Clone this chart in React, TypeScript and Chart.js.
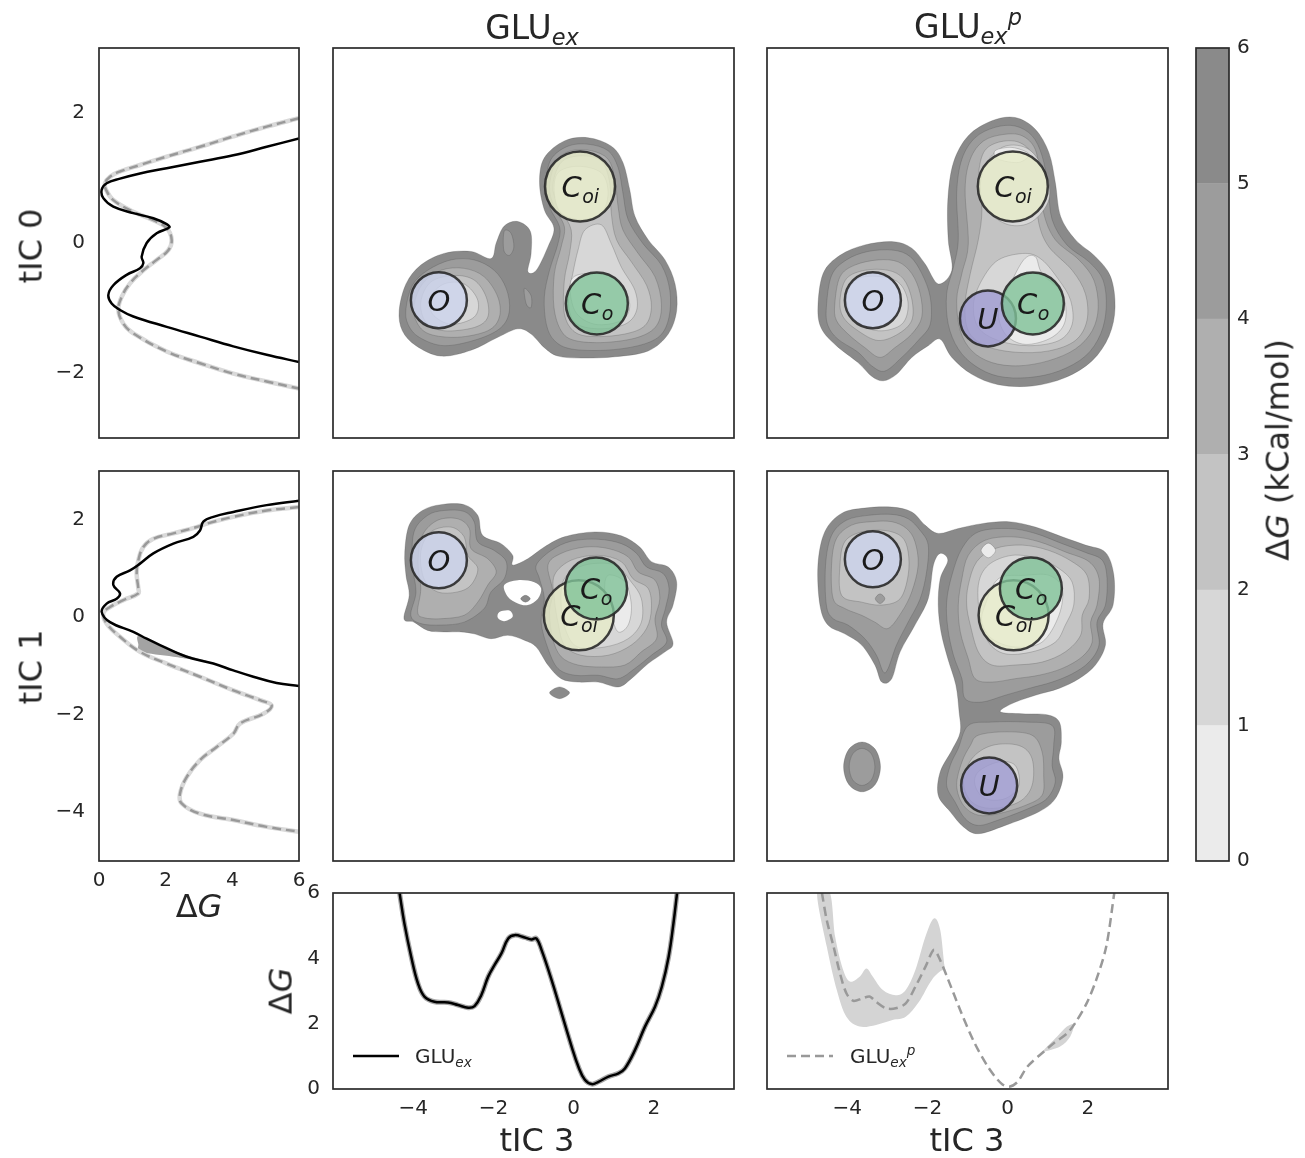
import React, { useEffect, useRef } from "react";
import { Chart, registerables } from "chart.js";

Chart.register(...registerables);

const FONT = "'DejaVu Sans', 'Liberation Sans', sans-serif";
const INK = "#262626";
Chart.defaults.font.family = FONT;

// ================= colour scale (ΔG, kCal/mol) =================
const CB_LEVELS = [0, 1, 2, 3, 4, 5, 6];
const CB_COLORS = ["#ebebeb", "#d7d7d7", "#c3c3c3", "#afafaf", "#9c9c9c", "#8a8a8a"];

// ================= 1-D profiles along tIC 0 (x = ΔG, y = tIC 0) =================
const TIC0_EX_Y = [1.61, 1.48, 1.35, 1.25, 1.15, 1.07, 0.99, 0.92, 0.82, 0.69, 0.56, 0.46, 0.38, 0.29, 0.24, 0.15, 0.0, -0.21, -0.31, -0.39, -0.49, -0.65, -0.8, -0.93, -1.03, -1.13, -1.29, -1.44, -1.59, -1.72, -1.83];
const TIC0_EX_DG = [6.0, 5.03, 4.03, 3.03, 2.03, 1.23, 0.63, 0.23, 0.08, 0.13, 0.43, 1.03, 1.63, 2.03, 2.11, 1.73, 1.43, 1.28, 1.33, 1.23, 0.83, 0.43, 0.28, 0.38, 0.63, 1.03, 2.03, 3.03, 4.03, 5.03, 6.0];
const TIC0_P_Y = [1.92, 1.79, 1.64, 1.48, 1.33, 1.2, 1.1, 1.02, 0.92, 0.82, 0.66, 0.48, 0.35, 0.23, 0.05, -0.11, -0.26, -0.42, -0.62, -0.83, -1.03, -1.24, -1.39, -1.67, -1.85, -2.01, -2.13, -2.24];
const TIC0_P_DG = [6.0, 5.03, 4.03, 3.03, 2.03, 1.23, 0.63, 0.33, 0.18, 0.21, 0.43, 1.03, 1.63, 2.03, 2.18, 2.08, 1.73, 1.33, 0.93, 0.68, 0.58, 0.73, 1.03, 2.03, 3.03, 4.03, 5.03, 6.0];

// ================= 1-D profiles along tIC 1 (x = ΔG, y = tIC 1) =================
const TIC1_EX_Y = [2.39, 2.3, 2.16, 2.06, 1.96, 1.78, 1.65, 1.51, 1.31, 1.1, 0.96, 0.83, 0.66, 0.49, 0.38, 0.28, 0.11, -0.1, -0.3, -0.44, -0.57, -0.81, -0.95, -1.09, -1.22, -1.35, -1.41];
const TIC1_EX_DG = [6.0, 5.03, 4.03, 3.43, 3.13, 3.03, 2.83, 2.23, 1.63, 1.23, 0.93, 0.53, 0.43, 0.63, 0.53, 0.23, 0.08, 0.33, 1.03, 1.43, 1.83, 2.63, 3.43, 4.03, 4.63, 5.33, 6.0];
const TIC1_P_Y = [2.26, 2.19, 2.06, 1.92, 1.85, 1.72, 1.61, 1.44, 1.17, 0.9, 0.59, 0.49, 0.35, 0.21, 0.08, -0.13, -0.4, -0.71, -0.95, -1.22, -1.5, -1.7, -1.81, -1.98, -2.18, -2.39, -2.66, -2.93, -3.28, -3.62, -3.82, -4.03, -4.16, -4.3, -4.4];
const TIC1_P_DG = [6.0, 5.03, 4.03, 3.23, 2.93, 2.23, 1.63, 1.33, 1.18, 1.13, 1.18, 1.18, 0.73, 0.33, 0.13, 0.23, 0.63, 1.23, 2.03, 3.03, 4.03, 4.83, 5.18, 4.93, 4.23, 4.03, 3.53, 3.03, 2.63, 2.43, 2.48, 3.03, 4.03, 5.03, 6.0];
// uncertainty wedge below the GLUex tIC 1 profile
const TIC1_EX_BAND = [[1.2, -0.38], [1.83, -0.57], [2.63, -0.78], [3.23, -0.9], [2.23, -0.81], [1.28, -0.71], [1.18, -0.55]];

// ================= 1-D profiles along tIC 3 (x = tIC 3, y = ΔG) =================
const TIC3_EX_X = [-4.34, -4.22, -4.05, -3.88, -3.72, -3.47, -3.13, -2.88, -2.63, -2.47, -2.3, -2.13, -1.97, -1.8, -1.63, -1.47, -1.22, -1.05, -0.93, -0.8, -0.55, -0.3, -0.05, 0.12, 0.28, 0.45, 0.62, 0.87, 1.12, 1.28, 1.53, 1.78, 2.03, 2.2, 2.37, 2.49, 2.58];
const TIC3_EX_DG = [6.0, 5.07, 4.05, 3.23, 2.83, 2.67, 2.65, 2.57, 2.49, 2.54, 2.88, 3.44, 3.8, 4.15, 4.61, 4.71, 4.64, 4.58, 4.61, 4.26, 3.34, 2.32, 1.3, 0.68, 0.28, 0.15, 0.22, 0.38, 0.48, 0.63, 1.19, 1.91, 2.52, 3.13, 4.05, 5.07, 6.0];
const TIC3_P_X = [-4.63, -4.51, -4.34, -4.18, -4.02, -3.85, -3.61, -3.44, -3.28, -3.03, -2.79, -2.54, -2.3, -2.05, -1.84, -1.72, -1.48, -1.15, -0.82, -0.49, -0.16, 0.04, 0.25, 0.49, 0.9, 1.15, 1.48, 1.68, 1.97, 2.21, 2.46, 2.66];
const TIC3_P_DG = [6.0, 5.17, 4.36, 3.54, 2.93, 2.7, 2.78, 2.83, 2.67, 2.47, 2.47, 2.62, 3.13, 3.74, 4.26, 4.05, 3.34, 2.32, 1.4, 0.68, 0.17, 0.07, 0.22, 0.68, 1.14, 1.4, 1.7, 2.01, 2.62, 3.34, 4.36, 6.0];
// uncertainty band of the GLUex^p tIC 3 profile
const TIC3_P_UP_X = [-4.43, -4.3, -4.1, -3.93, -3.69, -3.52, -3.36, -3.11, -2.79, -2.54, -2.3, -2.05, -1.84, -1.68, -1.57, -1.48];
const TIC3_P_UP = [6.0, 4.66, 3.64, 3.29, 3.44, 3.69, 3.44, 3.03, 2.87, 3.03, 3.64, 4.66, 5.22, 4.87, 3.74, 3.34];
const TIC3_P_LO_X = [-4.75, -4.51, -4.26, -4.02, -3.69, -3.28, -2.87, -2.54, -2.21, -1.89, -1.6, -1.48];
const TIC3_P_LO = [6.0, 4.36, 3.03, 2.21, 1.91, 1.96, 2.11, 2.21, 2.67, 3.34, 3.64, 3.34];
const TIC3_P_UP2_X = [0.9, 1.23, 1.48, 1.68];
const TIC3_P_UP2 = [1.19, 1.6, 1.91, 2.01];
const TIC3_P_LO2_X = [0.9, 1.31, 1.56, 1.68];
const TIC3_P_LO2 = [1.14, 1.3, 1.6, 2.01];

// ================= free-energy contour regions (x = tIC 3, y = tIC 0 / tIC 1) =================
// ---- GLUex, tIC 0 vs tIC 3 ----
const TC_L6 = [[-4.35, -1.04], [-4.18, -0.63], [-3.81, -0.34], [-3.23, -0.16], [-2.56, -0.13], [-2.06, -0.24], [-1.93, 0.0], [-1.73, 0.26], [-1.39, 0.33], [-1.08, 0.18], [-1.06, -0.16], [-1.14, -0.44], [-0.93, -0.42], [-0.64, -0.06], [-0.49, 0.23], [-0.73, 0.51], [-0.85, 0.93], [-0.73, 1.31], [-0.23, 1.57], [0.36, 1.62], [0.94, 1.49], [1.23, 1.24], [1.4, 0.82], [1.53, 0.41], [1.86, 0.05], [2.28, -0.26], [2.53, -0.63], [2.57, -1.04], [2.36, -1.4], [1.86, -1.66], [1.03, -1.75], [0.19, -1.77], [-0.39, -1.74], [-0.73, -1.61], [-1.06, -1.4], [-1.39, -1.32], [-1.89, -1.45], [-2.56, -1.65], [-3.31, -1.74], [-3.93, -1.58], [-4.27, -1.35]];
const TC_HOLE_A = [[-1.73, 0.18], [-1.56, 0.15], [-1.49, -0.06], [-1.6, -0.19], [-1.74, -0.11]];
const TC_HOLE_B = [[-1.23, -0.7], [-1.06, -0.81], [-1.06, -0.99], [-1.18, -0.94]];
const TC_L5_O = [[-4.18, -1.01], [-4.02, -0.65], [-3.64, -0.42], [-3.06, -0.26], [-2.48, -0.26], [-1.98, -0.42], [-1.68, -0.7], [-1.6, -1.04], [-1.81, -1.3], [-2.39, -1.48], [-3.23, -1.58], [-3.85, -1.45], [-4.13, -1.25]];
const TC_L5_MAIN = [[-0.68, 0.93], [-0.56, 1.29], [-0.14, 1.49], [0.36, 1.52], [0.86, 1.42], [1.11, 1.16], [1.23, 0.77], [1.36, 0.36], [1.73, -0.01], [2.19, -0.34], [2.4, -0.73], [2.38, -1.14], [2.15, -1.43], [1.61, -1.58], [0.78, -1.65], [-0.06, -1.63], [-0.48, -1.5], [-0.68, -1.25], [-0.73, -0.83], [-0.6, -0.42], [-0.39, -0.01], [-0.35, 0.25], [-0.6, 0.56]];
const TC_L4_O = [[-3.98, -0.96], [-3.77, -0.63], [-3.31, -0.42], [-2.73, -0.39], [-2.23, -0.52], [-1.89, -0.83], [-1.85, -1.14], [-2.14, -1.35], [-2.89, -1.45], [-3.6, -1.4], [-3.91, -1.22]];
const TC_L4_MAIN = [[-0.6, 0.87], [-0.43, 1.26], [-0.06, 1.42], [0.44, 1.42], [0.86, 1.29], [1.03, 0.98], [1.11, 0.56], [1.23, 0.2], [1.61, -0.16], [2.03, -0.52], [2.19, -0.94], [2.07, -1.27], [1.61, -1.45], [0.78, -1.53], [0.03, -1.5], [-0.31, -1.35], [-0.49, -0.99], [-0.48, -0.47], [-0.31, -0.06], [-0.23, 0.25], [-0.49, 0.56]];
const TC_L3_O = [[-3.81, -0.91], [-3.56, -0.6], [-2.98, -0.5], [-2.48, -0.57], [-2.18, -0.83], [-2.14, -1.14], [-2.48, -1.3], [-3.23, -1.35], [-3.68, -1.22]];
const TC_L3_MAIN = [[-0.52, 0.85], [-0.31, 1.24], [0.19, 1.34], [0.69, 1.26], [0.9, 0.93], [0.94, 0.46], [1.07, 0.05], [1.44, -0.29], [1.82, -0.65], [1.94, -0.99], [1.78, -1.27], [1.28, -1.4], [0.53, -1.44], [0.03, -1.37], [-0.23, -1.09], [-0.23, -0.57], [-0.1, -0.16], [-0.06, 0.2], [-0.31, 0.51]];
const TC_L2_O = [[-3.56, -0.83], [-3.23, -0.63], [-2.73, -0.63], [-2.39, -0.88], [-2.48, -1.14], [-3.06, -1.25], [-3.52, -1.09]];
const TC_L2_COI = [[-0.39, 1.08], [0.11, 1.18], [0.69, 1.08], [0.86, 0.77], [0.69, 0.46], [0.19, 0.36], [-0.31, 0.46], [-0.48, 0.77]];
const TC_L2_CO = [[0.28, 0.2], [0.69, 0.28], [0.94, -0.01], [1.19, -0.37], [1.53, -0.73], [1.57, -1.04], [1.28, -1.25], [0.61, -1.32], [0.03, -1.22], [-0.13, -0.88], [-0.02, -0.47], [0.11, -0.11]];
const TC_L1_CO = [[-0.06, -0.57], [0.44, -0.47], [1.11, -0.57], [1.4, -0.94], [1.19, -1.19], [0.53, -1.25], [0.03, -1.04]];

// ---- GLUex^p, tIC 0 vs tIC 3 ----
const TR_L6 = [[-4.73, -0.99], [-4.6, -0.47], [-4.18, -0.19], [-3.56, -0.03], [-2.85, 0.02], [-2.39, -0.08], [-2.06, -0.32], [-1.73, -0.63], [-1.39, -0.42], [-1.48, 0.05], [-1.49, 0.67], [-1.35, 1.24], [-0.98, 1.65], [-0.39, 1.88], [0.19, 1.93], [0.69, 1.75], [1.03, 1.39], [1.19, 0.93], [1.32, 0.41], [1.69, 0.05], [2.19, -0.21], [2.57, -0.52], [2.68, -0.99], [2.53, -1.43], [2.11, -1.81], [1.44, -2.07], [0.61, -2.2], [-0.23, -2.18], [-0.89, -2.02], [-1.39, -1.76], [-1.68, -1.48], [-1.98, -1.58], [-2.39, -1.76], [-2.77, -2.02], [-3.1, -2.12], [-3.39, -2.05], [-3.73, -1.84], [-4.27, -1.58], [-4.64, -1.32]];
const TR_L5_O = [[-4.52, -0.99], [-4.39, -0.5], [-4.02, -0.26], [-3.48, -0.13], [-2.85, -0.11], [-2.43, -0.21], [-2.14, -0.47], [-1.93, -0.83], [-1.93, -1.25], [-2.23, -1.5], [-2.64, -1.76], [-3.06, -1.97], [-3.39, -1.89], [-3.73, -1.68], [-4.23, -1.48], [-4.48, -1.27]];
const TR_L5_MAIN = [[-1.27, 0.77], [-1.14, 1.29], [-0.81, 1.62], [-0.31, 1.78], [0.19, 1.8], [0.61, 1.65], [0.86, 1.34], [1.01, 0.87], [1.11, 0.36], [1.48, -0.03], [2.03, -0.29], [2.38, -0.57], [2.46, -0.99], [2.32, -1.4], [1.94, -1.74], [1.28, -1.97], [0.53, -2.07], [-0.23, -2.05], [-0.81, -1.89], [-1.23, -1.63], [-1.48, -1.25], [-1.52, -0.78], [-1.35, -0.37], [-1.23, 0.05]];
const TR_L4_O = [[-4.31, -0.94], [-4.18, -0.52], [-3.81, -0.34], [-3.23, -0.26], [-2.73, -0.29], [-2.39, -0.47], [-2.18, -0.78], [-2.14, -1.14], [-2.39, -1.4], [-2.81, -1.61], [-3.18, -1.76], [-3.56, -1.61], [-3.98, -1.4], [-4.27, -1.19]];
const TR_L4_MAIN = [[-1.06, 0.82], [-0.93, 1.29], [-0.6, 1.57], [-0.1, 1.67], [0.36, 1.65], [0.69, 1.44], [0.82, 0.98], [0.9, 0.46], [1.19, 0.05], [1.78, -0.26], [2.15, -0.57], [2.26, -0.99], [2.11, -1.35], [1.69, -1.63], [1.03, -1.81], [0.28, -1.89], [-0.39, -1.84], [-0.89, -1.66], [-1.18, -1.35], [-1.27, -0.88], [-1.14, -0.47], [-0.98, -0.01]];
const TR_L3_O = [[-4.18, -0.88], [-4.02, -0.55], [-3.56, -0.42], [-2.98, -0.42], [-2.6, -0.55], [-2.39, -0.86], [-2.39, -1.19], [-2.73, -1.4], [-3.23, -1.5], [-3.73, -1.35], [-4.1, -1.14]];
const TR_L3_MAIN = [[-0.73, 0.98], [-0.6, 1.39], [-0.23, 1.55], [0.28, 1.55], [0.61, 1.34], [0.69, 0.82], [0.78, 0.3], [1.03, -0.06], [1.61, -0.42], [1.94, -0.78], [1.98, -1.19], [1.69, -1.5], [1.03, -1.66], [0.19, -1.68], [-0.56, -1.58], [-0.98, -1.35], [-1.06, -0.94], [-0.93, -0.47], [-0.73, 0.05], [-0.64, 0.51]];
const TR_L2_O = [[-4.02, -0.83], [-3.73, -0.55], [-3.14, -0.52], [-2.68, -0.63], [-2.48, -0.94], [-2.64, -1.25], [-3.23, -1.35], [-3.81, -1.19]];
const TR_L2_COI = [[-0.52, 1.24], [-0.06, 1.49], [0.53, 1.44], [0.94, 1.08], [1.03, 0.67], [0.61, 0.33], [0.03, 0.28], [-0.52, 0.51], [-0.68, 0.87]];
const TR_L2_CO = [[-0.64, -0.57], [-0.23, -0.26], [0.44, -0.16], [0.86, -0.26], [1.28, -0.57], [1.57, -0.88], [1.61, -1.25], [1.28, -1.5], [0.53, -1.58], [-0.23, -1.5], [-0.73, -1.3], [-0.85, -0.94]];
const TR_L1_CO = [[0.4, -0.26], [0.69, -0.21], [0.86, -0.47], [1.36, -0.78], [1.44, -1.19], [1.11, -1.45], [0.44, -1.56], [-0.06, -1.4], [-0.23, -1.04], [0.03, -0.68]];
const TR_L1_COI = [[-0.31, 1.42], [0.11, 1.47], [0.53, 1.37], [0.28, 1.24], [-0.23, 1.29]];

// ---- GLUex, tIC 1 vs tIC 3 ----
const MC_L6 = [[-4.23, -0.03], [-4.1, 0.45], [-4.18, 0.86], [-4.21, 1.34], [-4.1, 1.89], [-3.77, 2.19], [-3.31, 2.31], [-2.73, 2.31], [-2.39, 2.09], [-2.27, 1.68], [-1.81, 1.51], [-1.52, 1.27], [-1.52, 1.07], [-1.14, 1.2], [-0.73, 1.44], [-0.23, 1.65], [0.53, 1.75], [1.19, 1.67], [1.65, 1.44], [1.94, 1.14], [2.36, 1.03], [2.57, 0.72], [2.48, 0.25], [2.32, -0.1], [2.48, -0.54], [2.28, -0.71], [1.86, -0.95], [1.44, -1.26], [1.11, -1.43], [0.61, -1.33], [0.11, -1.33], [-0.31, -1.26], [-0.64, -0.98], [-0.93, -0.61], [-1.23, -0.47], [-1.64, -0.37], [-2.06, -0.44], [-2.48, -0.34], [-2.81, -0.3], [-3.23, -0.3], [-3.64, -0.27], [-3.98, -0.1]];
const MC_BLOB = [[-0.6, -1.55], [-0.35, -1.43], [-0.1, -1.55], [-0.35, -1.67]];
const MC_HOLE_A = [[-1.73, 0.66], [-1.39, 0.76], [-0.98, 0.72], [-0.81, 0.59], [-0.89, 0.38], [-1.14, 0.25], [-1.39, 0.28], [-1.64, 0.42]];
const MC_HOLE_B = [[-1.85, 0.11], [-1.6, 0.14], [-1.52, 0.01], [-1.73, -0.08], [-1.89, -0.01]];
const MC_SPOT = [[-1.32, 0.38], [-1.2, 0.45], [-1.08, 0.38], [-1.2, 0.31]];
const MC_L5_O = [[-4.06, 0.04], [-3.93, 0.52], [-4.02, 1.07], [-3.98, 1.75], [-3.64, 2.09], [-3.23, 2.19], [-2.73, 2.17], [-2.48, 1.96], [-2.39, 1.55], [-1.98, 1.37], [-1.68, 1.14], [-1.73, 0.79], [-2.06, 0.52], [-2.23, 0.18], [-2.73, -0.1], [-3.31, -0.16], [-3.81, -0.13]];
const MC_L5_MAIN = [[-0.93, 1.07], [-0.56, 1.37], [-0.06, 1.56], [0.61, 1.6], [1.19, 1.51], [1.57, 1.31], [1.82, 1.03], [2.23, 0.9], [2.38, 0.59], [2.29, 0.18], [2.19, -0.16], [2.32, -0.51], [1.94, -0.78], [1.53, -1.05], [1.11, -1.26], [0.61, -1.19], [0.03, -1.19], [-0.39, -1.05], [-0.64, -0.64], [-0.81, -0.1], [-0.73, 0.38], [-0.85, 0.79]];
const MC_L4_O = [[-3.89, 0.11], [-3.81, 0.59], [-3.88, 1.14], [-3.77, 1.68], [-3.39, 1.99], [-2.89, 2.02], [-2.6, 1.82], [-2.56, 1.41], [-2.14, 1.2], [-1.93, 0.93], [-2.14, 0.66], [-2.39, 0.31], [-2.73, 0.04], [-3.31, -0.03], [-3.73, -0.01]];
const MC_L4_MAIN = [[-0.64, 1.07], [-0.31, 1.31], [0.28, 1.44], [0.86, 1.41], [1.36, 1.24], [1.61, 0.93], [2.03, 0.76], [2.15, 0.38], [2.03, -0.03], [2.07, -0.44], [1.69, -0.71], [1.28, -0.98], [0.69, -1.02], [0.11, -0.98], [-0.31, -0.81], [-0.52, -0.44], [-0.6, 0.11], [-0.52, 0.52]];
const MC_L3_O = [[-3.81, 1.34], [-3.56, 1.75], [-3.06, 1.85], [-2.73, 1.65], [-2.64, 1.27], [-2.39, 1.0], [-2.56, 0.66], [-2.89, 0.52], [-3.39, 0.52], [-3.73, 0.79]];
const MC_L3_MAIN = [[-0.48, 0.86], [-0.06, 1.17], [0.61, 1.27], [1.19, 1.14], [1.48, 0.79], [1.86, 0.59], [1.94, 0.18], [1.82, -0.23], [1.44, -0.57], [0.86, -0.78], [0.19, -0.78], [-0.23, -0.57], [-0.39, -0.1], [-0.48, 0.38]];
const MC_L2_MAIN = [[-0.23, 0.79], [0.28, 1.07], [1.03, 1.07], [1.44, 0.72], [1.69, 0.38], [1.69, -0.1], [1.36, -0.44], [0.78, -0.61], [0.11, -0.61], [-0.18, -0.3], [-0.31, 0.25]];
const MC_L1_MAIN = [[0.86, 0.86], [1.28, 0.72], [1.44, 0.25], [1.36, -0.16], [1.11, -0.3], [0.94, 0.04], [0.78, 0.52]];

// ---- GLUex^p, tIC 1 vs tIC 3 ----
const MR_L6 = [[-4.68, 0.25], [-4.73, 1.07], [-4.56, 1.75], [-4.14, 2.13], [-3.56, 2.24], [-2.89, 2.26], [-2.39, 2.16], [-2.06, 1.89], [-1.73, 1.72], [-1.23, 1.82], [-0.64, 1.92], [0.03, 1.96], [0.69, 1.85], [1.36, 1.65], [1.94, 1.48], [2.44, 1.33], [2.65, 0.86], [2.63, 0.25], [2.38, -0.13], [2.44, -0.57], [2.19, -0.98], [1.78, -1.26], [1.28, -1.46], [0.69, -1.6], [0.11, -1.77], [-0.18, -1.94], [0.36, -1.98], [0.98, -2.0], [1.29, -2.15], [1.34, -2.56], [1.28, -2.9], [1.38, -3.28], [1.19, -3.72], [0.78, -3.99], [-0.06, -4.27], [-0.73, -4.44], [-1.1, -4.3], [-1.43, -3.99], [-1.73, -3.65], [-1.68, -3.17], [-1.39, -2.73], [-1.18, -2.35], [-1.21, -1.94], [-1.29, -1.39], [-1.49, -0.85], [-1.66, -0.3], [-1.73, 0.25], [-1.68, 0.79], [-1.49, 1.17], [-1.68, 1.31], [-1.85, 1.07], [-1.98, 0.38], [-2.31, -0.16], [-2.68, -0.71], [-2.89, -1.26], [-3.14, -1.33], [-3.31, -0.98], [-3.64, -0.57], [-4.06, -0.34], [-4.48, -0.16]];
const MR_BLOB6 = [[-3.63, -2.56], [-3.3, -2.71], [-3.17, -3.07], [-3.3, -3.43], [-3.63, -3.58], [-3.96, -3.43], [-4.09, -3.07], [-3.96, -2.71]];
const MR_BLOB5 = [[-3.63, -2.69], [-3.4, -2.8], [-3.31, -3.07], [-3.4, -3.34], [-3.63, -3.45], [-3.86, -3.34], [-3.95, -3.07], [-3.86, -2.8]];
const MR_L5_O = [[-4.52, 0.25], [-4.54, 1.07], [-4.39, 1.68], [-4.02, 1.99], [-3.48, 2.09], [-2.89, 2.11], [-2.48, 2.02], [-2.18, 1.78], [-1.98, 1.48], [-2.02, 0.93], [-2.18, 0.38], [-2.48, -0.1], [-2.77, -0.57], [-2.98, -1.05], [-3.1, -1.12], [-3.27, -0.78], [-3.56, -0.44], [-3.98, -0.16], [-4.35, -0.03]];
const MR_L5_MAIN = [[-1.39, 0.86], [-1.14, 1.41], [-0.73, 1.75], [0.03, 1.82], [0.69, 1.72], [1.36, 1.51], [1.94, 1.33], [2.36, 1.17], [2.48, 0.79], [2.44, 0.25], [2.23, -0.1], [2.28, -0.57], [2.03, -0.92], [1.61, -1.16], [1.11, -1.33], [0.53, -1.46], [-0.06, -1.6], [-0.64, -1.74], [-1.06, -1.67], [-1.14, -1.26], [-1.35, -0.78], [-1.49, -0.23], [-1.52, 0.31]];
const MR_L5_U = [[-0.98, -2.22], [-0.39, -2.15], [0.44, -2.15], [1.11, -2.22], [1.15, -2.63], [1.11, -3.04], [1.19, -3.38], [0.98, -3.72], [0.53, -3.92], [-0.23, -4.16], [-0.73, -4.27], [-1.06, -4.13], [-1.31, -3.79], [-1.52, -3.45], [-1.43, -3.04], [-1.23, -2.69]];
const MR_L4_O = [[-4.35, 0.38], [-4.39, 1.07], [-4.27, 1.61], [-3.89, 1.89], [-3.39, 1.96], [-2.89, 1.96], [-2.52, 1.82], [-2.31, 1.55], [-2.23, 1.07], [-2.39, 0.52], [-2.64, 0.11], [-2.98, -0.23], [-3.31, -0.1], [-3.64, 0.04], [-4.06, 0.18]];
const MR_L4_MAIN = [[-1.14, 0.79], [-0.98, 1.27], [-0.56, 1.58], [0.11, 1.65], [0.78, 1.55], [1.44, 1.34], [2.03, 1.14], [2.28, 0.79], [2.23, 0.25], [2.07, -0.1], [2.11, -0.51], [1.86, -0.81], [1.36, -1.05], [0.78, -1.19], [0.19, -1.26], [-0.39, -1.33], [-0.81, -1.26], [-0.98, -0.85], [-1.18, -0.3], [-1.23, 0.25]];
const MR_L4_U = [[-0.73, -2.42], [-0.06, -2.35], [0.61, -2.42], [0.86, -2.76], [0.9, -3.24], [0.86, -3.65], [0.44, -3.86], [-0.23, -4.03], [-0.73, -4.06], [-1.1, -3.86], [-1.27, -3.45], [-1.14, -2.97], [-0.93, -2.63]];
const MR_L3_O = [[-4.14, 0.45], [-4.18, 1.07], [-4.06, 1.55], [-3.64, 1.75], [-3.06, 1.78], [-2.64, 1.65], [-2.48, 1.34], [-2.48, 0.86], [-2.68, 0.38], [-3.14, 0.25], [-3.64, 0.31]];
const MR_DOT5 = [[-3.3, 0.38], [-3.18, 0.48], [-3.06, 0.38], [-3.18, 0.28]];
const MR_L3_MAIN = [[-0.98, 0.66], [-0.77, 1.14], [-0.31, 1.41], [0.36, 1.48], [1.03, 1.37], [1.61, 1.14], [1.98, 0.86], [2.03, 0.38], [1.86, 0.04], [1.82, -0.37], [1.44, -0.71], [0.86, -0.92], [0.19, -0.98], [-0.39, -0.98], [-0.73, -0.71], [-0.93, -0.16], [-1.02, 0.25]];
const MR_L3_U = [[-0.89, -2.9], [-0.39, -2.63], [0.28, -2.63], [0.61, -2.9], [0.61, -3.45], [0.28, -3.79], [-0.39, -3.92], [-0.89, -3.79], [-1.1, -3.38]];
const MR_L2_MAIN = [[-0.73, 0.66], [-0.48, 1.07], [0.11, 1.27], [0.78, 1.2], [1.28, 1.0], [1.61, 0.72], [1.65, 0.25], [1.44, -0.16], [1.19, -0.51], [0.61, -0.71], [-0.06, -0.75], [-0.48, -0.51], [-0.68, -0.03]];
const MR_L2_U = [[-0.73, -3.17], [-0.23, -2.97], [0.19, -3.04], [0.28, -3.45], [-0.06, -3.72], [-0.56, -3.72], [-0.81, -3.45]];
const MR_L1_MAIN = [[-0.56, 0.25], [-0.23, 0.79], [0.44, 0.86], [1.03, 0.86], [1.36, 0.59], [1.28, 0.04], [0.86, -0.51], [0.19, -0.61], [-0.39, -0.44], [-0.64, -0.1]];
const MR_L1_SPOT = [[-0.66, 1.37], [-0.48, 1.52], [-0.3, 1.37], [-0.48, 1.22]];

// region lists: [ΔG level (upper bound, 0 = empty), polygon]
const TC_REGIONS: [number, number[][]][] = [[6, TC_L6], [5, TC_HOLE_A], [5, TC_HOLE_B], [5, TC_L5_O], [5, TC_L5_MAIN], [4, TC_L4_O], [4, TC_L4_MAIN], [3, TC_L3_O], [3, TC_L3_MAIN], [2, TC_L2_O], [2, TC_L2_COI], [2, TC_L2_CO], [1, TC_L1_CO]];
const TR_REGIONS: [number, number[][]][] = [[6, TR_L6], [5, TR_L5_O], [5, TR_L5_MAIN], [4, TR_L4_O], [4, TR_L4_MAIN], [3, TR_L3_O], [3, TR_L3_MAIN], [2, TR_L2_O], [2, TR_L2_COI], [2, TR_L2_CO], [1, TR_L1_CO], [1, TR_L1_COI]];
const MC_REGIONS: [number, number[][]][] = [[6, MC_L6], [6, MC_BLOB], [0, MC_HOLE_A], [0, MC_HOLE_B], [6, MC_SPOT], [5, MC_L5_O], [5, MC_L5_MAIN], [4, MC_L4_O], [4, MC_L4_MAIN], [3, MC_L3_O], [3, MC_L3_MAIN], [2, MC_L2_MAIN], [1, MC_L1_MAIN]];
const MR_REGIONS: [number, number[][]][] = [[6, MR_L6], [6, MR_BLOB6], [5, MR_BLOB5], [5, MR_L5_O], [5, MR_L5_MAIN], [5, MR_L5_U], [4, MR_L4_O], [4, MR_L4_MAIN], [4, MR_L4_U], [3, MR_L3_O], [5, MR_DOT5], [3, MR_L3_MAIN], [3, MR_L3_U], [2, MR_L2_MAIN], [2, MR_L2_U], [1, MR_L1_MAIN], [1, MR_L1_SPOT]];

// ================= conformational states =================
const TC_STATES = ["O", "Coi", "Co"];
const TC_SX = [-3.36, 0.16, 0.58];
const TC_SY = [-0.88, 0.87, -0.93];
const TR_STATES = ["O", "Coi", "Co", "U"];
const TR_SX = [-3.36, 0.13, 0.63, -0.49];
const TR_SY = [-0.88, 0.87, -0.93, -1.16];
const MC_STATES = ["O", "Co", "Coi"];
const MC_SX = [-3.36, 0.56, 0.13];
const MC_SY = [1.17, 0.59, 0.04];
const MR_STATES = ["O", "Co", "Coi", "U"];
const MR_SX = [-3.36, 0.58, 0.15, -0.46];
const MR_SY = [1.19, 0.59, 0.04, -3.45];

// ================= ticks =================
const TIC0_TICKS = [-2, 0, 2];
const TIC1_TICKS = [-4, -2, 0, 2];
const DG_TICKS = [0, 2, 4, 6];
const TIC3_TICKS = [-4, -2, 0, 2];

// ================= styling =================
const STATE_STYLE: Record<string, { r: number; fill: string }> = {
  O: { r: 28, fill: "rgba(205,213,237,0.8)" },
  Coi: { r: 35, fill: "rgba(231,236,201,0.8)" },
  Co: { r: 31, fill: "rgba(128,194,151,0.8)" },
  U: { r: 28, fill: "rgba(159,155,210,0.8)" },
};

const fmt = (v: number) => (v < 0 ? "\u2212" + Math.abs(v) : String(v));

function catmull(ctx: CanvasRenderingContext2D, p: number[][]) {
  const n = p.length;
  ctx.moveTo(p[0][0], p[0][1]);
  for (let i = 0; i < n; i++) {
    const p0 = p[(i - 1 + n) % n], p1 = p[i], p2 = p[(i + 1) % n], p3 = p[(i + 2) % n];
    ctx.bezierCurveTo(
      p1[0] + (p2[0] - p0[0]) / 6, p1[1] + (p2[1] - p0[1]) / 6,
      p2[0] - (p3[0] - p1[0]) / 6, p2[1] - (p3[1] - p1[1]) / 6,
      p2[0], p2[1]
    );
  }
  ctx.closePath();
}

function regionPlugin(regions: { pts: number[][]; fill: string; stroke?: string | null }[]) {
  return {
    id: "regions",
    beforeDatasetsDraw(chart: any) {
      const { ctx, chartArea: a, scales } = chart;
      const x = scales.x, y = scales.y;
      ctx.save();
      ctx.beginPath();
      ctx.rect(a.left, a.top, a.right - a.left, a.bottom - a.top);
      ctx.clip();
      for (const r of regions) {
        const px = r.pts.map((q) => [x.getPixelForValue(q[0]), y.getPixelForValue(q[1])]);
        ctx.beginPath();
        catmull(ctx, px);
        ctx.fillStyle = r.fill;
        ctx.fill();
        if (r.stroke) {
          ctx.strokeStyle = r.stroke;
          ctx.lineWidth = 0.9;
          ctx.stroke();
        }
      }
      ctx.restore();
    },
  };
}

const framePlugin = {
  id: "frame",
  afterDraw(chart: any) {
    const { ctx, chartArea: a } = chart;
    ctx.save();
    ctx.strokeStyle = "#2b2b2b";
    ctx.lineWidth = 1.7;
    ctx.strokeRect(a.left, a.top, a.right - a.left, a.bottom - a.top);
    ctx.restore();
  },
};

function stateLabelPlugin(names: string[], xs: number[], ys: number[]) {
  return {
    id: "stateLabels",
    afterDatasetsDraw(chart: any) {
      const { ctx, scales } = chart;
      ctx.save();
      ctx.fillStyle = "#1a1a1a";
      ctx.textBaseline = "alphabetic";
      ctx.textAlign = "left";
      names.forEach((nm, i) => {
        const cx = scales.x.getPixelForValue(xs[i]);
        const cy = scales.y.getPixelForValue(ys[i]);
        const main = nm[0], sub = nm.slice(1);
        ctx.font = `italic 29px ${FONT}`;
        const w1 = ctx.measureText(main).width;
        ctx.font = `italic 19px ${FONT}`;
        const w2 = sub ? ctx.measureText(sub).width : 0;
        const x0 = cx - (w1 + w2) / 2;
        ctx.font = `italic 29px ${FONT}`;
        ctx.fillText(main, x0, cy + 10.5);
        if (sub) {
          ctx.font = `italic 19px ${FONT}`;
          ctx.fillText(sub, x0 + w1 + 0.5, cy + 16.5);
        }
      });
      ctx.restore();
    },
  };
}

function linAxis(min: number, max: number, ticks: number[] | null, pos: string, size: number, pad: number) {
  const shown = !!ticks;
  return {
    type: "linear",
    min,
    max,
    position: pos,
    display: shown,
    grid: { display: false, drawTicks: false },
    border: { display: false },
    afterBuildTicks: (s: any) => {
      if (ticks) s.ticks = ticks.map((v) => ({ value: v }));
    },
    afterFit: (s: any) => {
      s.paddingTop = 0;
      s.paddingBottom = 0;
      s.paddingLeft = 0;
      s.paddingRight = 0;
      if (!shown) return;
      if (s.isHorizontal()) s.height = size;
      else s.width = size;
    },
    ticks: {
      font: { family: FONT, size: 20 },
      color: INK,
      padding: pad,
      autoSkip: false,
      maxRotation: 0,
      callback: (v: any) => fmt(Number(v)),
    },
  };
}

function baseOptions(scales: any, padding: any) {
  return {
    animation: false,
    responsive: false,
    maintainAspectRatio: false,
    events: [],
    layout: { padding, autoPadding: false },
    plugins: { legend: { display: false }, tooltip: { enabled: false } },
    scales,
  };
}

// datasets are listed top-most first (Chart.js paints index 0 last)
function lineDs(xs: number[], ys: number[], color: string, width: number, dash: number[] = [], tension = 0.4) {
  return {
    data: xs.map((v, i) => ({ x: v, y: ys[i] })),
    showLine: true,
    borderColor: color,
    backgroundColor: color,
    borderWidth: width,
    borderDash: dash,
    pointRadius: 0,
    pointHoverRadius: 0,
    tension,
    fill: false,
    borderJoinStyle: "round",
  };
}

function bandPts(ux: number[], uy: number[], lx: number[], ly: number[]) {
  const up = ux.map((v, i) => [v, uy[i]]);
  const lo = lx.map((v, i) => [v, ly[i]]).reverse();
  return up.concat(lo);
}

// ---------- geometry (pixel boxes of each panel) ----------
type Box = { l: number; t: number; w: number; h: number };
type Marg = { l: number; t: number; r: number; b: number };
const BOX: Record<string, Box> = {
  p0: { l: 99, t: 48, w: 200, h: 390 },
  p1: { l: 99, t: 471, w: 200, h: 390 },
  c0: { l: 333, t: 48, w: 401, h: 390 },
  r0: { l: 767, t: 48, w: 401, h: 390 },
  c1: { l: 333, t: 471, w: 401, h: 390 },
  r1: { l: 767, t: 471, w: 401, h: 390 },
  b0: { l: 333, t: 893, w: 401, h: 196 },
  b1: { l: 767, t: 893, w: 401, h: 196 },
  cb: { l: 1196, t: 48, w: 33, h: 813 },
};

function contourConfig(spec: [number, number[][]][], names: string[], xs: number[], ys: number[], yMin: number, yMax: number, m: Marg) {
  const regions = spec.map(([lv, pts]) => ({
    pts,
    fill: lv === 0 ? "#ffffff" : CB_COLORS[lv - 1],
    stroke: lv === 0 ? null : "rgba(70,70,70,0.28)",
  }));
  return {
    type: "scatter",
    data: {
      datasets: names.map((nm, i) => ({
        data: [{ x: xs[i], y: ys[i] }],
        order: i,
        pointRadius: STATE_STYLE[nm].r,
        pointHoverRadius: STATE_STYLE[nm].r,
        pointBackgroundColor: STATE_STYLE[nm].fill,
        pointBorderColor: "rgba(38,38,38,0.88)",
        pointBorderWidth: 2.5,
        pointHoverBorderWidth: 2.5,
      })),
    },
    options: baseOptions(
      { x: linAxis(-6, 4, null, "bottom", 0, 0), y: linAxis(yMin, yMax, null, "left", 0, 0) },
      { left: m.l, right: m.r, top: m.t, bottom: m.b }
    ),
    plugins: [regionPlugin(regions), stateLabelPlugin(names, xs, ys), framePlugin],
  };
}

type PanelDef = { key: string; box: Box; m: Marg; make: () => any };

const M_CONT: Marg = { l: 2, t: 2, r: 2, b: 2 };
const SHADE = "#d9d9d9";

const PANELS: PanelDef[] = [
  {
    key: "p0",
    box: BOX.p0,
    m: { l: 62, t: 12, r: 12, b: 12 },
    make: () => ({
      type: "scatter",
      data: {
        datasets: [
          lineDs(TIC0_EX_DG, TIC0_EX_Y, "#000000", 2.5),
          lineDs(TIC0_P_DG, TIC0_P_Y, "#999999", 2.5, [9, 5]),
          lineDs(TIC0_P_DG, TIC0_P_Y, SHADE, 4.5),
        ],
      },
      options: baseOptions(
        { x: linAxis(0, 6, null, "bottom", 0, 0), y: linAxis(-3, 3, TIC0_TICKS, "left", 62, 14) },
        { left: 0, right: 12, top: 12, bottom: 12 }
      ),
      plugins: [framePlugin],
    }),
  },
  {
    key: "p1",
    box: BOX.p1,
    m: { l: 62, t: 12, r: 14, b: 36 },
    make: () => ({
      type: "scatter",
      data: {
        datasets: [
          lineDs(TIC1_EX_DG, TIC1_EX_Y, "#000000", 2.5),
          lineDs(TIC1_P_DG, TIC1_P_Y, "#999999", 2.5, [9, 5]),
          lineDs(TIC1_P_DG, TIC1_P_Y, SHADE, 4.5),
        ],
      },
      options: baseOptions(
        { x: linAxis(0, 6, DG_TICKS, "bottom", 36, 8), y: linAxis(-5, 3, TIC1_TICKS, "left", 62, 14) },
        { left: 0, right: 14, top: 12, bottom: 0 }
      ),
      plugins: [regionPlugin([{ pts: TIC1_EX_BAND, fill: "#a3a3a3" }]), framePlugin],
    }),
  },
  { key: "c0", box: BOX.c0, m: M_CONT, make: () => contourConfig(TC_REGIONS, TC_STATES, TC_SX, TC_SY, -3, 3, M_CONT) },
  { key: "r0", box: BOX.r0, m: M_CONT, make: () => contourConfig(TR_REGIONS, TR_STATES, TR_SX, TR_SY, -3, 3, M_CONT) },
  { key: "c1", box: BOX.c1, m: M_CONT, make: () => contourConfig(MC_REGIONS, MC_STATES, MC_SX, MC_SY, -5, 3, M_CONT) },
  { key: "r1", box: BOX.r1, m: M_CONT, make: () => contourConfig(MR_REGIONS, MR_STATES, MR_SX, MR_SY, -5, 3, M_CONT) },
  {
    key: "b0",
    box: BOX.b0,
    m: { l: 62, t: 14, r: 12, b: 36 },
    make: () => ({
      type: "scatter",
      data: {
        datasets: [
          lineDs(TIC3_EX_X, TIC3_EX_DG, "#000000", 2.5),
          lineDs(TIC3_EX_X, TIC3_EX_DG, "#a6a6a6", 5),
        ],
      },
      options: baseOptions(
        { x: linAxis(-6, 4, TIC3_TICKS, "bottom", 36, 8), y: linAxis(0, 6, DG_TICKS, "left", 62, 13) },
        { left: 0, right: 12, top: 14, bottom: 0 }
      ),
      plugins: [framePlugin],
    }),
  },
  {
    key: "b1",
    box: BOX.b1,
    m: { l: 12, t: 14, r: 12, b: 36 },
    make: () => ({
      type: "scatter",
      data: { datasets: [lineDs(TIC3_P_X, TIC3_P_DG, "#999999", 2.5, [9, 5], 0.3)] },
      options: baseOptions(
        { x: linAxis(-6, 4, TIC3_TICKS, "bottom", 36, 8), y: linAxis(0, 6, null, "left", 0, 0) },
        { left: 12, right: 12, top: 14, bottom: 0 }
      ),
      plugins: [
        regionPlugin([
          { pts: bandPts(TIC3_P_UP_X, TIC3_P_UP, TIC3_P_LO_X, TIC3_P_LO), fill: "#d4d4d4" },
          { pts: bandPts(TIC3_P_UP2_X, TIC3_P_UP2, TIC3_P_LO2_X, TIC3_P_LO2), fill: "#d4d4d4" },
        ]),
        framePlugin,
      ],
    }),
  },
  {
    key: "cb",
    box: BOX.cb,
    m: { l: 2, t: 14, r: 50, b: 14 },
    make: () => ({
      type: "bar",
      data: {
        labels: [""],
        datasets: CB_COLORS.map((c, i) => ({
          data: [[CB_LEVELS[i], CB_LEVELS[i + 1]]],
          backgroundColor: c,
          borderWidth: 0,
          barPercentage: 1,
          categoryPercentage: 1,
          grouped: false,
        })),
      },
      options: baseOptions(
        { x: { type: "category", display: false }, y: linAxis(0, 6, CB_LEVELS, "right", 50, 8) },
        { left: 2, right: 0, top: 14, bottom: 14 }
      ),
      plugins: [framePlugin],
    }),
  },
];

function Panel({ def }: { def: PanelDef }) {
  const ref = useRef<HTMLCanvasElement>(null);
  const { box, m } = def;
  const left = box.l - m.l, top = box.t - m.t;
  const width = box.w + m.l + m.r, height = box.h + m.t + m.b;
  useEffect(() => {
    const chart = new Chart(ref.current as HTMLCanvasElement, def.make());
    return () => chart.destroy();
  }, []);
  return (
    <div style={{ position: "absolute", left, top, width, height }}>
      <canvas ref={ref} width={width} height={height} style={{ width, height, display: "block" }} />
    </div>
  );
}

const Sub = ({ children }: any) => (
  <span style={{ fontStyle: "italic", fontSize: "0.68em", position: "relative", top: "0.28em" }}>{children}</span>
);
const Sup = ({ children }: any) => (
  <span style={{ fontStyle: "italic", fontSize: "0.68em", position: "relative", top: "-0.6em" }}>{children}</span>
);

function Label({ x, y, size, rotate, left, children }: any) {
  const tf = (left ? "translate(0,-50%)" : "translate(-50%,-50%)") + (rotate ? " rotate(-90deg)" : "");
  return (
    <div
      style={{
        position: "absolute",
        left: x,
        top: y,
        transform: tf,
        fontFamily: FONT,
        fontSize: size,
        color: INK,
        whiteSpace: "nowrap",
        lineHeight: 1.15,
      }}
    >
      {children}
    </div>
  );
}

export default function App() {
  return (
    <div style={{ position: "absolute", left: 0, top: 0, width: 1305, height: 1158, background: "#ffffff", overflow: "hidden" }}>
      {PANELS.map((p) => (
        <Panel key={p.key} def={p} />
      ))}
      <Label x={532} y={28} size={33}>
        GLU<Sub>ex</Sub>
      </Label>
      <Label x={968} y={27} size={33}>
        GLU<Sub>ex</Sub>
        <Sup>p</Sup>
      </Label>
      <Label x={31} y={246} size={32} rotate>
        tIC 0
      </Label>
      <Label x={31} y={667} size={32} rotate>
        tIC 1
      </Label>
      <Label x={199} y={906} size={32}>
        Δ<i>G</i>
      </Label>
      <Label x={281} y={991} size={32} rotate>
        Δ<i>G</i>
      </Label>
      <Label x={537} y={1140} size={32}>
        tIC 3
      </Label>
      <Label x={967} y={1140} size={32}>
        tIC 3
      </Label>
      <Label x={1278} y={450} size={32} rotate>
        Δ<i>G</i> (kCal/mol)
      </Label>
      {/* legends */}
      <svg style={{ position: "absolute", left: 352, top: 1050, width: 50, height: 12 }}>
        <line x1={1} y1={6} x2={47} y2={6} stroke="#000" strokeWidth={2.5} />
      </svg>
      <Label x={415} y={1056} size={20} left>
        GLU<Sub>ex</Sub>
      </Label>
      <svg style={{ position: "absolute", left: 786, top: 1050, width: 50, height: 12 }}>
        <line x1={1} y1={6} x2={47} y2={6} stroke="#999" strokeWidth={2.5} strokeDasharray="9,5" />
      </svg>
      <Label x={850} y={1056} size={20} left>
        GLU<Sub>ex</Sub>
        <Sup>p</Sup>
      </Label>
    </div>
  );
}
